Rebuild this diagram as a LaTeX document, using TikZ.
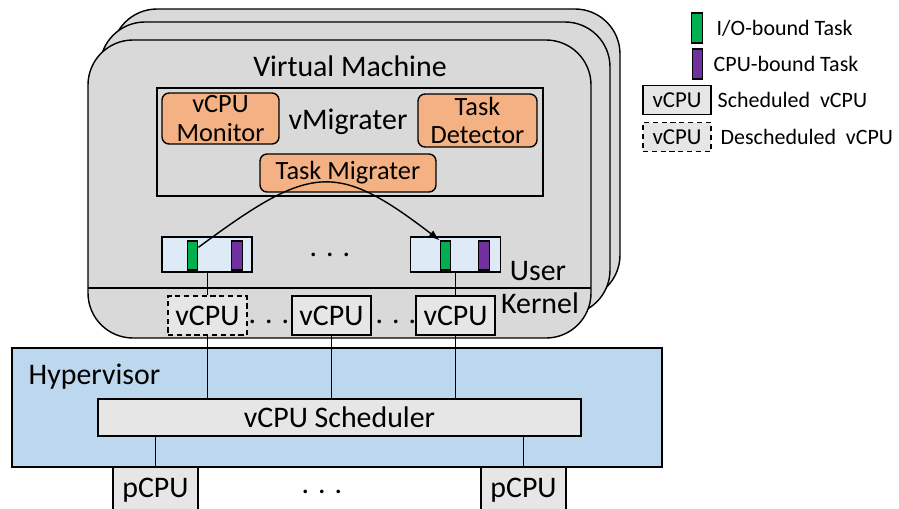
\documentclass[tikz,border=0pt]{standalone}
\usepackage{fontspec}
\setmainfont{Carlito}
\usetikzlibrary{arrows.meta}
\definecolor{vmgray}{HTML}{D9D9D9}
\definecolor{boxgray}{HTML}{E7E6E6}
\definecolor{modorange}{HTML}{F4B183}
\definecolor{rqblue}{HTML}{DEEBF7}
\definecolor{hypblue}{HTML}{BDD7EE}
\definecolor{iogreen}{HTML}{00B050}
\definecolor{cpupurple}{HTML}{7030A0}

\begin{document}
\begin{tikzpicture}[x=0.02cm, y=-0.02cm, line width=0.8pt,
    bigtext/.style={font=\fontsize{17}{19}\selectfont},
    vmlayer/.style={draw, fill=vmgray, rounded corners=0.9cm},
    module/.style={draw, fill=modorange, rounded corners=4pt, inner sep=0pt, align=center, font=\fontsize{15}{16}\selectfont},
    runq/.style={draw, fill=rqblue, minimum width=1.8cm, minimum height=0.7cm, inner sep=0pt},
    task/.style={draw, minimum width=0.21cm, minimum height=0.58cm, inner sep=0pt},
    vcpu/.style={draw, fill=boxgray, minimum width=1.58cm, minimum height=0.78cm, inner sep=0pt, bigtext},
    desched/.style={vcpu, dash pattern=on 3pt off 2pt},
    legbox/.style={draw, fill=boxgray, minimum width=1.36cm, minimum height=0.57cm, inner sep=0pt, font=\fontsize{13}{15}\selectfont},
    legtext/.style={anchor=west, inner sep=0pt, font=\fontsize{12.5}{14}\selectfont}]
\useasboundingbox (0,0) rectangle (899,508);

% virtual machine stack
\draw[vmlayer] (112,9) rectangle (620,300);
\draw[vmlayer] (100,22) rectangle (610,315);
\draw[vmlayer] (88,40) rectangle (591,338);
\draw (88,288) -- (591,288);
\node[bigtext] (vmtitle) at (350,66) {Virtual Machine};

\node[draw, minimum width=7.72cm, minimum height=2.16cm] (vmig) at (350,142) {};
\node[bigtext] (vmiglabel) at (348,122) {vMigrater};
\node[module, minimum width=2.34cm, minimum height=1.02cm] (mon) at (220.5,118.5) {vCPU\\Monitor};
\node[module, minimum width=2.38cm, minimum height=1.06cm] (det) at (477.5,120.5) {Task\\Detector};
\node[module, minimum width=3.52cm, minimum height=0.76cm] (mig) at (348,173) {Task Migrater};

% run queues
\node[runq] (rq1) at (207,254.5) {};
\node[runq] (rq2) at (455.5,254.5) {};
\node[task, fill=iogreen] (io1) at (192.5,255.5) {};
\node[task, fill=cpupurple] (cpu1) at (237,255.5) {};
\node[task, fill=iogreen] (io2) at (445.5,255.5) {};
\node[task, fill=cpupurple] (cpu2) at (484,255.5) {};
\node[bigtext, anchor=base] (rqdots) at (330,256) {. . .};
\draw[-{Latex[length=2.2mm,width=1.6mm]}] (io1.54) .. controls (310,165) and (335,160) .. (io2.north west);

\node[bigtext] (user) at (538,271) {User};
\node[bigtext] (kernel) at (540,303) {Kernel};

% vcpus
\node[desched] (vcpu1) at (207.5,315.5) {vCPU};
\node[vcpu] (vcpu2) at (331.5,315.5) {vCPU};
\node[vcpu] (vcpu3) at (455.5,315.5) {vCPU};
\node[bigtext, anchor=base] (vdots1) at (269,323) {. . .};
\node[bigtext, anchor=base] (vdots2) at (396,323) {. . .};
\draw (rq1.south -| vcpu1.north) -- (vcpu1.north);
\draw (rq2.south -| vcpu3.north) -- (vcpu3.north);

% hypervisor
\node[draw, fill=hypblue, minimum width=13cm, minimum height=2.38cm] (hyp) at (337,407.5) {};
\node[bigtext, anchor=west, inner sep=0pt] (hyplabel) at (28,377) {Hypervisor};
\node[draw, fill=boxgray, minimum width=9.66cm, minimum height=0.74cm, bigtext] (sched) at (339.5,417.5) {vCPU Scheduler};
\draw (vcpu1.south) -- (vcpu1.south |- sched.north);
\draw (vcpu2.south) -- (vcpu2.south |- sched.north);
\draw (vcpu3.south) -- (vcpu3.south |- sched.north);

\node[vcpu, minimum width=1.7cm, minimum height=0.92cm] (pcpu1) at (155.5,490) {pCPU};
\node[vcpu, minimum width=1.7cm, minimum height=0.92cm] (pcpu2) at (523.5,490) {pCPU};
\node[bigtext, anchor=base] (pdots) at (322,493) {. . .};
\draw (pcpu1.north |- sched.south) -- (pcpu1.north);
\draw (pcpu2.north |- sched.south) -- (pcpu2.north);

% legend
\node[task, fill=iogreen, minimum height=0.6cm] (lio) at (697,28) {};
\node[task, fill=cpupurple, minimum height=0.6cm] (lcpu) at (697.5,64) {};
\node[legbox] (lsch) at (677,100) {vCPU};
\node[legbox, dash pattern=on 3pt off 2pt] (ldes) at (677,137) {vCPU};
\node[legtext] (liotext) at (716,28) {I/O-bound Task};
\node[legtext] (lcputext) at (713,64) {CPU-bound Task};
\node[legtext] (lschtext) at (717,100) {Scheduled~~vCPU};
\node[legtext] (ldestext) at (720,137) {Descheduled~~vCPU};
\end{tikzpicture}
\end{document}
